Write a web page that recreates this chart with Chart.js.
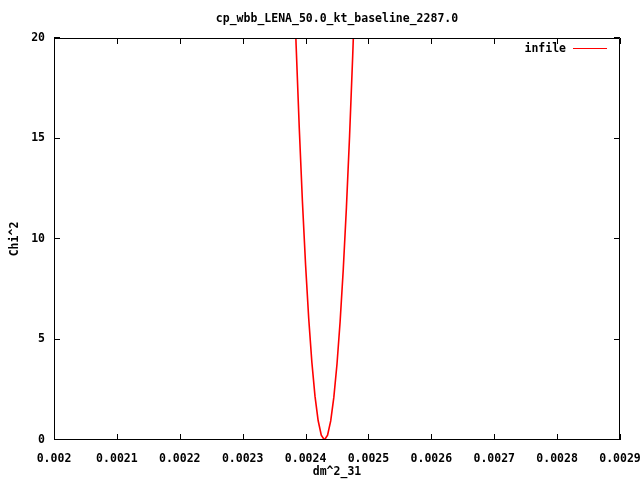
<!DOCTYPE html>
<html>
<head>
<meta charset="utf-8">
<script src="https://cdn.jsdelivr.net/npm/chart.js@4"></script>
<style>
  html, body { margin: 0; padding: 0; background: #fff; }
  #wrap { width: 640px; height: 480px; }
</style>
</head>
<body>
<div id="wrap"><canvas id="chiChart" width="640" height="480"></canvas></div>
<script>
// scan over dm^2_31
const dm2Values = [
  0.002375, 0.00238, 0.002385, 0.00239, 0.002395, 0.0024, 0.002405, 0.00241,
  0.002415, 0.00242, 0.002425, 0.00243, 0.002435, 0.00244, 0.002445, 0.00245,
  0.002455, 0.00246, 0.002465, 0.00247, 0.002475, 0.00248, 0.002485,
];
const chi2Values = [
  29.35, 24.25, 19.64, 15.52, 11.88, 8.73, 6.06, 3.88,
  2.18, 0.97, 0.24, 0.0, 0.24, 0.95, 2.13, 3.78,
  5.91, 8.51, 11.58, 15.12, 19.14, 23.63, 28.59,
];

const xTicks = [0.002, 0.0021, 0.0022, 0.0023, 0.0024, 0.0025, 0.0026, 0.0027, 0.0028, 0.0029];
const xTickLabels = ["0.002", "0.0021", "0.0022", "0.0023", "0.0024", "0.0025", "0.0026", "0.0027", "0.0028", "0.0029"];
const yTicks = [0, 5, 10, 15, 20];
const yTickLabels = ["0", "5", "10", "15", "20"];

const titleText = "cp_wbb_LENA_50.0_kt_baseline_2287.0";
const xLabel = "dm^2_31";
const yLabel = "Chi^2";
const seriesName = "infile";

const FONT = "bold 11.5px 'DejaVu Sans Mono', monospace";

const gnuplotFrame = {
  id: "gnuplotFrame",
  afterDraw(chart) {
    const { ctx, chartArea: a, scales } = chart;
    const xs = scales.x;
    const ys = scales.y;
    ctx.save();
    ctx.strokeStyle = "#000";
    ctx.lineWidth = 1;
    ctx.beginPath();
    ctx.rect(a.left + 0.5, a.top + 0.5, a.right - a.left - 1, a.bottom - a.top - 1);
    ctx.stroke();

    // inward ticks on all four sides
    ctx.beginPath();
    xTicks.forEach((v) => {
      const px = Math.round(xs.getPixelForValue(v)) + 0.5;
      ctx.moveTo(px, a.bottom);
      ctx.lineTo(px, a.bottom - 6);
      ctx.moveTo(px, a.top);
      ctx.lineTo(px, a.top + 6);
    });
    yTicks.forEach((v) => {
      const py = Math.round(ys.getPixelForValue(v)) - 0.5;
      ctx.moveTo(a.left, py);
      ctx.lineTo(a.left + 6, py);
      ctx.moveTo(a.right, py);
      ctx.lineTo(a.right - 6, py);
    });
    ctx.stroke();

    ctx.fillStyle = "#000";
    ctx.font = FONT;
    ctx.textBaseline = "middle";
    ctx.textAlign = "center";
    xTicks.forEach((v, i) => {
      ctx.fillText(xTickLabels[i], xs.getPixelForValue(v), a.bottom + 19);
    });
    ctx.textAlign = "right";
    yTicks.forEach((v, i) => {
      ctx.fillText(yTickLabels[i], a.left - 9, ys.getPixelForValue(v));
    });

    const midX = (a.left + a.right) / 2;
    ctx.textAlign = "center";
    ctx.fillText(titleText, midX, 19);
    ctx.fillText(xLabel, midX, 472);

    ctx.save();
    ctx.translate(15, (a.top + a.bottom) / 2);
    ctx.rotate(-Math.PI / 2);
    ctx.fillText(yLabel, 0, 0);
    ctx.restore();

    // key
    ctx.textAlign = "right";
    ctx.fillText(seriesName, 566, 49);
    ctx.strokeStyle = "#ff0000";
    ctx.beginPath();
    ctx.moveTo(573, 48.5);
    ctx.lineTo(607, 48.5);
    ctx.stroke();
    ctx.restore();
  },
};

const ctx = document.getElementById("chiChart");
new Chart(ctx, {
  type: "scatter",
  data: {
    datasets: [
      {
        label: seriesName,
        data: dm2Values.map((x, i) => ({ x: x, y: chi2Values[i] })),
        showLine: true,
        borderColor: "#ff0000",
        borderWidth: 1.6,
        pointRadius: 0,
        tension: 0,
      },
    ],
  },
  options: {
    responsive: false,
    animation: false,
    devicePixelRatio: 1,
    layout: { padding: { left: 54, right: 20, top: 38, bottom: 40 } },
    plugins: {
      legend: { display: false },
      title: { display: false },
      tooltip: { enabled: false },
    },
    scales: {
      x: {
        type: "linear",
        min: 0.002,
        max: 0.0029,
        grid: { display: false },
        border: { display: false },
        ticks: { display: false },
        afterFit: (scale) => { scale.height = 0; },
      },
      y: {
        type: "linear",
        min: 0,
        max: 20,
        grid: { display: false },
        border: { display: false },
        ticks: { display: false },
        afterFit: (scale) => { scale.width = 0; },
      },
    },
  },
  plugins: [gnuplotFrame],
});
</script>
</body>
</html>
